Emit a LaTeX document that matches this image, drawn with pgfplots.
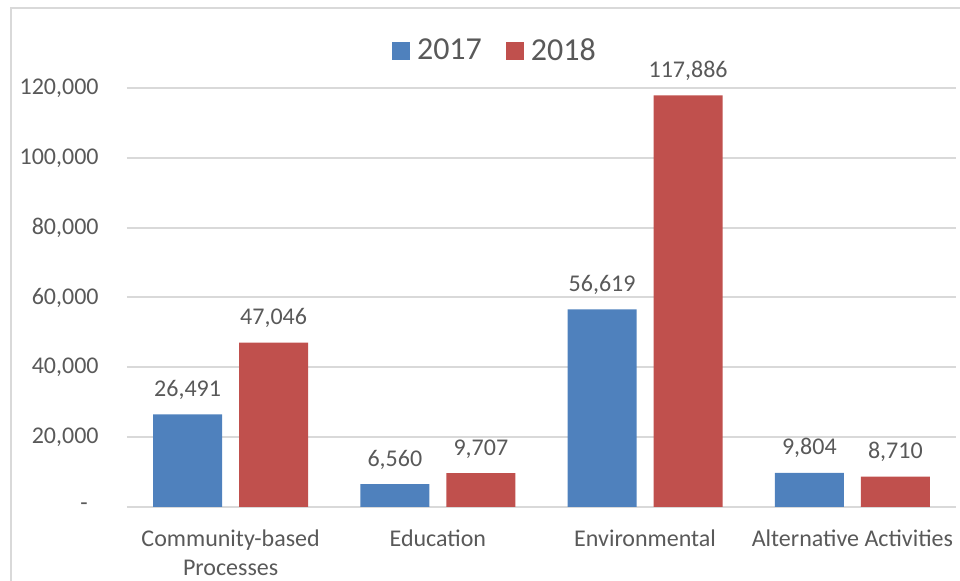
\documentclass[border=0pt]{standalone}
\usepackage{pgfplots}
\pgfplotsset{compat=1.18}
\usepackage{fontspec}
\setmainfont{Carlito}
\definecolor{txt}{HTML}{595959}
\definecolor{grd}{HTML}{D9D9D9}
\definecolor{b17}{HTML}{4F81BD}
\definecolor{r18}{HTML}{C0504D}
\begin{document}
\begin{tikzpicture}
\clip (0,0) rectangle (480pt,290.5pt);
\draw[grd, line width=1pt] (5.5pt,-5pt) -- (5.5pt,286.5pt) -- (490pt,286.5pt);
\begin{axis}[
 at={(63.5pt,37pt)}, anchor=south west,
 scale only axis, width=414.5pt, height=209.5pt,
 xmin=-0.5, xmax=3.5, ymin=0, ymax=120000,
 ybar=8.5pt, bar width=34.5pt,
 axis line style={draw=none},
 major tick length=0pt,
 ymajorgrids, grid style={grd, line width=1pt},
 ytick={20000,40000,60000,80000,100000,120000},
 yticklabels={{20,000}, {40,000}, {60,000}, {80,000}, {100,000}, {120,000}},
 extra y ticks={0}, extra y tick labels={{-\hspace*{5.4pt}}},
 extra y tick style={grid=major},
 yticklabel style={font=\fontsize{12}{14}\selectfont, text=txt, anchor=east, inner sep=0pt, xshift=-14pt},
 xtick={0,1,2,3},
 xticklabels={{Community-based\\Processes}, Education, Environmental, Alternative Activities},
 xticklabel style={font=\fontsize{12}{14.5}\selectfont, text=txt, align=center, anchor=north, inner sep=0pt, yshift=-11pt},
 scaled y ticks=false,
 nodes near coords={\pgfmathprintnumber[fixed,precision=0,1000 sep={,},assume math mode=true]{\pgfplotspointmeta}},
 every node near coord/.append style={font=\fontsize{12}{14}\selectfont, text=txt, anchor=base, inner sep=0pt, yshift=9pt},
 legend style={at={(0.445,1.088)}, anchor=center, draw=none, fill=none, font=\fontsize{16}{19}\selectfont, text=txt, legend columns=2,
   /tikz/every odd column/.append style={column sep=1.5pt},
   /tikz/every even column/.append style={column sep=10pt}},
]
\addplot[fill=b17, draw=none, legend image code/.code={\fill[b17] (0pt,-4.5pt) rectangle (9pt,4.5pt);}] coordinates {(0,26491) (1,6560) (2,56619) (3,9804)};
\addplot[fill=r18, draw=none, legend image code/.code={\fill[r18] (0pt,-4.5pt) rectangle (9pt,4.5pt);}] coordinates {(0,47046) (1,9707) (2,117886) (3,8710)};
\legend{2017,2018}
\end{axis}
\end{tikzpicture}
\end{document}
